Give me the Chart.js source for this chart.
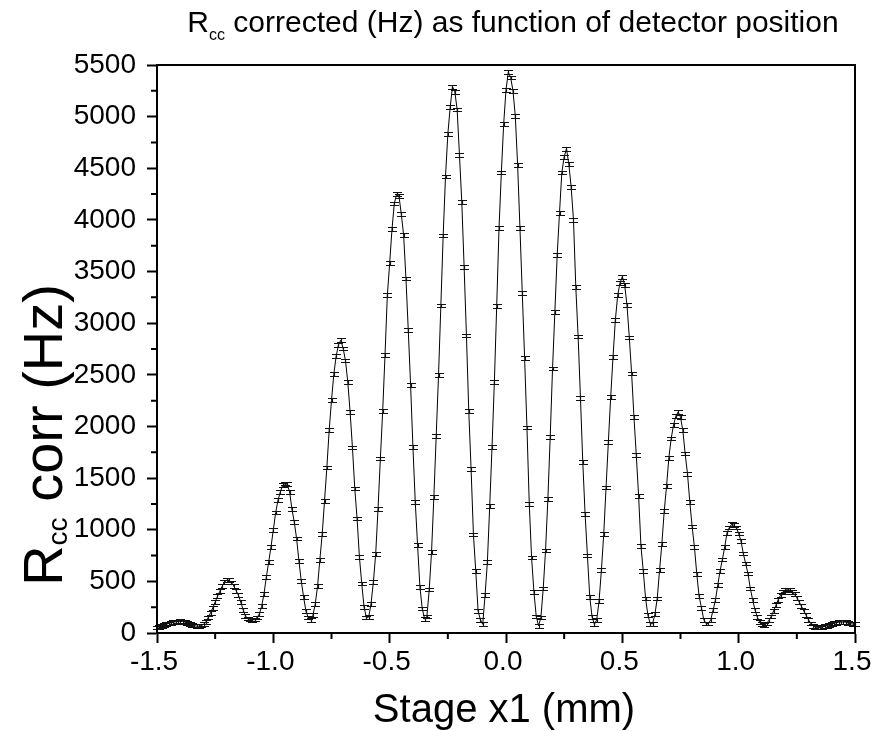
<!DOCTYPE html>
<html>
<head>
<meta charset="utf-8">
<script src="https://cdn.jsdelivr.net/npm/chart.js@4.4.0/dist/chart.umd.min.js"></script>
<style>
  html, body { margin: 0; padding: 0; background: #fff; }
  #wrap { width: 880px; height: 731px; }
</style>
</head>
<body>
<div id="wrap"><canvas id="chart" width="880" height="731"></canvas></div>
<script>
// stage positions run from -1.50 to 1.50 mm in 0.01 mm steps
const xStart = -1.5;
const xStep = 0.01;

// Rcc corrected (Hz)
// -1.50 .. -0.51
const rccLeft = [
    52, 60, 68, 76, 84, 92, 99, 105, 109, 112,
    113, 111, 106, 99, 90, 80, 72, 67, 66, 72,
    84, 107, 149, 194, 245, 300, 355, 404, 452, 494,
    510, 512, 490, 455, 410, 365, 300, 225, 165, 140,
    132, 128, 130, 150, 185, 260, 381, 542, 688, 835,
    1000, 1166, 1285, 1366, 1430, 1447, 1440, 1366, 1198, 1075,
    914, 697, 504, 349, 213, 149, 125, 171, 278, 452,
    710, 956, 1279, 1602, 1963, 2254, 2506, 2680, 2790, 2835,
    2755, 2640, 2430, 2140, 1795, 1400, 1108, 736, 478, 252,
    149, 155, 284, 494, 768, 1204, 1689, 2147, 2690, 3270,
];
// -0.50 .. 0.49
const rccCentre = [
    3580, 3910, 4160, 4250, 4230, 4056, 3852, 3432, 2932, 2399,
    1802, 1269, 849, 446, 236, 139, 160, 420, 785, 1317,
    1905, 2496, 3170, 3850, 4420, 4830, 5090, 5290, 5240, 5070,
    4630, 4175, 3545, 2880, 2147, 1585, 953, 601, 213, 129,
    84, 365, 688, 1230, 1802, 2431, 3165, 3920, 4460, 4930,
    5260, 5430, 5380, 5250, 5005, 4530, 3920, 3290, 2660, 1990,
    1250, 730, 400, 160, 70, 150, 430, 800, 1300, 1900,
    2560, 3110, 3660, 4070, 4460, 4610, 4690, 4540, 4320, 4000,
    3350, 2870, 2276, 1656, 1150, 750, 350, 155, 84, 129,
    310, 607, 956, 1408, 1850, 2286, 2674, 3030, 3270, 3390,
];
// 0.50 .. 1.50
const rccRight = [
    3450, 3370, 3174, 2861, 2512, 2092, 1721, 1327, 843, 601,
    333, 171, 90, 90, 181, 333, 607, 865, 1179, 1421,
    1698, 1883, 2015, 2100, 2141, 2090, 1963, 1737, 1543, 1269,
    1030, 830, 570, 355, 245, 129, 91, 91, 129, 220,
    317, 462, 601, 711, 833, 969, 1021, 1053, 1043, 1021,
    963, 891, 769, 672, 575, 430, 323, 226, 155, 107,
    84, 75, 91, 123, 161, 213, 268, 323, 365, 398,
    414, 420, 414, 398, 375, 342, 300, 258, 213, 171,
    129, 91, 65, 58, 52, 52, 58, 65, 71, 78,
    87, 94, 100, 104, 107, 107, 104, 97, 91, 87,
    84,
];
// half height of the error bars (Hz)
const errHalf = 18;

const xMinorTicks = [-1.25, -0.75, -0.25, 0.25, 0.75, 1.25];
const yMinorTicks = [250, 750, 1250, 1750, 2250, 2750, 3250, 3750, 4250, 4750, 5250];

const FONT = '"Liberation Sans", Arial, Helvetica, sans-serif';

const rcc = [...rccLeft, ...rccCentre, ...rccRight];
const points = rcc.map((v, i) => ({ x: +(xStart + i * xStep).toFixed(2), y: v }));

function drawSub(ctx, main, sub, rest, size, subSize, subDrop, cx, y) {
    const f1 = size + 'px ' + FONT;
    const f2 = subSize + 'px ' + FONT;
    ctx.font = f1;
    const w1 = ctx.measureText(main).width;
    const w3 = ctx.measureText(rest).width;
    ctx.font = f2;
    const w2 = ctx.measureText(sub).width;
    let x = cx - (w1 + w2 + w3) / 2;
    ctx.textAlign = 'left';
    ctx.font = f1;
    ctx.fillText(main, x, y);
    x += w1;
    ctx.font = f2;
    ctx.fillText(sub, x, y + subDrop);
    x += w2;
    ctx.font = f1;
    ctx.fillText(rest, x, y);
}

const errorBars = {
    id: 'errorBars',
    afterDatasetsDraw(chart) {
        const { ctx, scales: { x, y } } = chart;
        ctx.save();
        ctx.strokeStyle = '#111';
        ctx.lineWidth = 1.2;
        ctx.beginPath();
        points.forEach(p => {
            const px = Math.round(x.getPixelForValue(p.x)) + 0.5;
            const top = Math.round(y.getPixelForValue(p.y + errHalf)) + 0.5;
            const bot = Math.round(y.getPixelForValue(Math.max(0, p.y - errHalf))) + 0.5;
            ctx.moveTo(px, top); ctx.lineTo(px, bot);
            ctx.moveTo(px - 4.5, top); ctx.lineTo(px + 4.5, top);
            ctx.moveTo(px - 4.5, bot); ctx.lineTo(px + 4.5, bot);
        });
        ctx.stroke();
        ctx.restore();
    },
};

const frame = {
    id: 'frame',
    afterDraw(chart) {
        const { ctx, chartArea: a, scales: { x, y } } = chart;
        ctx.save();
        ctx.strokeStyle = '#000';
        ctx.lineWidth = 2;
        ctx.strokeRect(a.left, a.top, a.right - a.left, a.bottom - a.top);
        ctx.beginPath();
        xMinorTicks.forEach(v => {
            const px = x.getPixelForValue(v);
            ctx.moveTo(px, a.bottom); ctx.lineTo(px, a.bottom + 6);
        });
        yMinorTicks.forEach(v => {
            const py = y.getPixelForValue(v);
            ctx.moveTo(a.left, py); ctx.lineTo(a.left - 6, py);
        });
        ctx.stroke();

        ctx.fillStyle = '#000';
        ctx.textBaseline = 'alphabetic';
        const cx = (a.left + a.right) / 2;
        drawSub(ctx, 'R', 'cc', ' corrected (Hz) as function of detector position', 30, 16, 8, 513, 32);
        ctx.font = '40px ' + FONT;
        ctx.textAlign = 'center';
        ctx.fillText('Stage x1 (mm)', cx - 2, 722);
        ctx.translate(62, 435);
        ctx.rotate(-Math.PI / 2);
        drawSub(ctx, 'R', 'cc', ' corr (Hz)', 56, 28, 5, 0, 0);
        ctx.restore();
    },
};

const tickFont = { family: FONT, size: 28 };

new Chart(document.getElementById('chart'), {
    type: 'line',
    data: {
        datasets: [{
            data: points,
            borderColor: '#000',
            borderWidth: 1,
            pointRadius: 0,
            tension: 0,
            fill: false,
        }],
    },
    options: {
        responsive: false,
        animation: false,
        events: [],
        layout: { padding: { top: 65, right: 25, left: 0, bottom: 0 } },
        plugins: { legend: { display: false }, tooltip: { enabled: false } },
        scales: {
            x: {
                type: 'linear',
                min: -1.5,
                max: 1.5,
                ticks: {
                    stepSize: 0.5,
                    color: '#000',
                    font: tickFont,
                    padding: 2,
                    labelOffset: -3,
                    maxRotation: 0,
                    callback: v => Math.abs(v) < 1e-9 ? '0.0' : Number(v).toFixed(1),
                },
                grid: { drawOnChartArea: false, drawTicks: true, tickLength: 10, tickWidth: 2, tickColor: '#000' },
                border: { display: true, color: '#000', width: 2 },
                afterFit(s) { s.height = 98; },
            },
            y: {
                min: 0,
                max: 5500,
                ticks: { stepSize: 500, color: '#000', font: tickFont, padding: 11, callback: v => String(v) },
                grid: { drawOnChartArea: false, drawTicks: true, tickLength: 10, tickWidth: 2, tickColor: '#000' },
                border: { display: true, color: '#000', width: 2 },
                afterFit(s) { s.width = 157; },
            },
        },
    },
    plugins: [errorBars, frame],
});
</script>
</body>
</html>
